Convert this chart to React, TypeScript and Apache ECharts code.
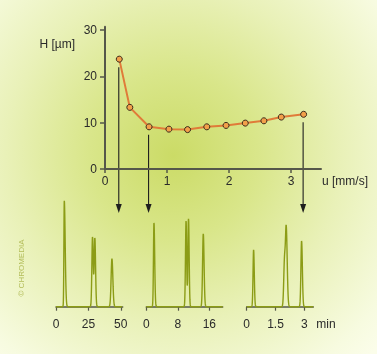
import React, { useEffect, useRef } from "react";
import * as echarts from "echarts";

// ---- Van Deemter plot data ----
const uValues = [0.23, 0.4, 0.71, 1.03, 1.33, 1.64, 1.95, 2.26, 2.56, 2.84, 3.2];
const hValues = [23.7, 13.3, 9.1, 8.6, 8.5, 9.1, 9.4, 9.9, 10.4, 11.2, 11.8];
const uTicks = [0, 1, 2, 3];
const hTicks = [0, 10, 20, 30];
const arrowPointIndex = [0, 2, 10];

// ---- Chromatograms (peak retention time, height, left/right widths) ----
const chrom1Times = [6.4, 28.2, 30.0, 43.2];
const chrom1Heights = [106, 70, 69, 48];
const chrom1SigL = [0.3, 0.5, 0.5, 0.65];
const chrom1SigR = [0.7, 0.55, 0.55, 0.7];
const chrom1Ticks = [0, 25, 50];

const chrom2Times = [1.95, 10.1, 10.72, 14.47];
const chrom2Heights = [84, 86, 88, 73];
const chrom2SigL = [0.13, 0.15, 0.15, 0.18];
const chrom2SigR = [0.18, 0.15, 0.16, 0.2];
const chrom2Ticks = [0, 8, 16];

const chrom3Times = [0.36, 1.97, 2.06, 2.86];
const chrom3Heights = [57, 45, 78, 66];
const chrom3SigL = [0.03, 0.04, 0.04, 0.035];
const chrom3SigR = [0.035, 0.04, 0.05, 0.04];
const chrom3Ticks = [0, 1.5, 3];

const FONT = "Liberation Sans, Arial, sans-serif";
const AXIS_COLOR = "#55574a";
const TEXT_COLOR = "#2a2a2a";
const CHROM_COLOR = "#8c9c16";

function buildTrace(times: number[], heights: number[], sl: number[], sr: number[], xMax: number) {
  const n = 900;
  const out: number[][] = [];
  for (let i = 0; i <= n; i++) {
    const t = (xMax * i) / n;
    let y = 0;
    for (let k = 0; k < times.length; k++) {
      const d = t - times[k];
      const s = d < 0 ? sl[k] : sr[k];
      y += heights[k] * Math.exp(-(d * d) / (2 * s * s));
    }
    out.push([t, y]);
  }
  return out;
}

const chromGrids = [
  { left: 56, width: 66.7, max: 51.5, ticks: chrom1Ticks, data: () => buildTrace(chrom1Times, chrom1Heights, chrom1SigL, chrom1SigR, 51.5) },
  { left: 146.3, width: 76.4, max: 19.4, ticks: chrom2Ticks, data: () => buildTrace(chrom2Times, chrom2Heights, chrom2SigL, chrom2SigR, 19.4) },
  { left: 246.7, width: 66.6, max: 3.47, ticks: chrom3Ticks, data: () => buildTrace(chrom3Times, chrom3Heights, chrom3SigL, chrom3SigR, 3.47) },
];

export default function App() {
  const ref = useRef<HTMLDivElement>(null);
  useEffect(() => {
    if (!ref.current) return;
    const chart = echarts.init(ref.current, undefined, { renderer: "svg" });

    const grids: any[] = [{ left: 105, top: 26.7, width: 216, height: 142.3 }];
    const xAxes: any[] = [
      {
        gridIndex: 0,
        type: "value",
        min: 0,
        max: 3.48,
        interval: 1,
        name: "u [mm/s]",
        nameLocation: "end",
        nameGap: 1,
        nameTextStyle: { color: TEXT_COLOR, fontSize: 12, fontFamily: FONT, verticalAlign: "top", align: "left", padding: [6, 0, 0, 0] },
        axisLine: { show: true, lineStyle: { color: AXIS_COLOR, width: 2 } },
        axisTick: { show: true, length: 4, customValues: uTicks, lineStyle: { color: AXIS_COLOR, width: 1.5 } },
        axisLabel: {
          customValues: uTicks,
          color: TEXT_COLOR,
          fontSize: 12,
          fontFamily: FONT,
          margin: 6,
          formatter: (v: number) => (uTicks.includes(v) ? String(v) : ""),
        },
        splitLine: { show: false },
      },
    ];
    const yAxes: any[] = [
      {
        gridIndex: 0,
        type: "value",
        min: 0,
        max: 30.7,
        interval: 10,
        name: "H [µm]",
        nameLocation: "end",
        nameGap: -17,
        nameTextStyle: { color: TEXT_COLOR, fontSize: 12, fontFamily: FONT, align: "right", verticalAlign: "middle", padding: [0, 30, 0, 0] },
        axisLine: { show: true, lineStyle: { color: AXIS_COLOR, width: 2 } },
        axisTick: { show: true, length: 5, customValues: hTicks, lineStyle: { color: AXIS_COLOR, width: 1.5 } },
        axisLabel: {
          customValues: hTicks,
          color: TEXT_COLOR,
          fontSize: 12,
          fontFamily: FONT,
          margin: 8,
          formatter: (v: number) => (hTicks.includes(v) ? String(v) : ""),
        },
        splitLine: { show: false },
      },
    ];
    const series: any[] = [
      {
        type: "line",
        xAxisIndex: 0,
        yAxisIndex: 0,
        data: uValues.map((u, i) => [u, hValues[i]]),
        symbol: "circle",
        symbolSize: 6,
        lineStyle: { color: "#e07b39", width: 2 },
        itemStyle: { color: "#f2a04a", borderColor: "#3a2a1a", borderWidth: 1 },
        z: 5,
      },
    ];

    chromGrids.forEach((g, idx) => {
      const gi = idx + 1;
      grids.push({ left: g.left, width: g.width, top: 195, height: 116.7 });
      const isLast = idx === chromGrids.length - 1;
      xAxes.push({
        gridIndex: gi,
        type: "value",
        min: 0,
        max: g.max,
        name: isLast ? "min" : "",
        nameLocation: "end",
        nameGap: 3,
        nameTextStyle: { color: TEXT_COLOR, fontSize: 12, fontFamily: FONT, verticalAlign: "top", align: "left", padding: [11, 0, 0, 0] },
        axisLine: { show: true, lineStyle: { color: AXIS_COLOR, width: 1.5 } },
        axisTick: { show: true, length: 4, customValues: g.ticks, lineStyle: { color: AXIS_COLOR, width: 1.2 } },
        axisLabel: {
          customValues: g.ticks,
          color: TEXT_COLOR,
          fontSize: 12,
          fontFamily: FONT,
          margin: 6,
          formatter: (v: number) => (g.ticks.includes(v) ? String(v) : ""),
        },
        splitLine: { show: false },
      });
      yAxes.push({ gridIndex: gi, type: "value", min: -5, max: 111.7, show: false, splitLine: { show: false } });
      series.push({
        type: "line",
        xAxisIndex: gi,
        yAxisIndex: gi,
        data: g.data(),
        showSymbol: false,
        symbol: "none",
        lineStyle: { color: CHROM_COLOR, width: 1.4 },
      });
    });

    chart.setOption({
      animation: false,
      backgroundColor: "transparent",
      grid: grids,
      xAxis: xAxes,
      yAxis: yAxes,
      series,
    });

    const tipY = 213;
    const graphics: any[] = [];
    arrowPointIndex.forEach((i) => {
      const p = chart.convertToPixel({ gridIndex: 0 } as any, [uValues[i], hValues[i]]) as number[];
      const x = p[0] - 0.5;
      graphics.push({
        type: "line",
        shape: { x1: x, y1: p[1] + 8, x2: x, y2: tipY - 6 },
        style: { stroke: "#1e1e1e", lineWidth: 1.1 },
        silent: true,
      });
      graphics.push({
        type: "polygon",
        shape: { points: [[x - 3, tipY - 9], [x + 3, tipY - 9], [x, tipY]] },
        style: { fill: "#1e1e1e" },
        silent: true,
      });
    });
    graphics.push({
      type: "text",
      x: 21,
      y: 268,
      rotation: Math.PI / 2,
      style: { text: "© CHROMEDIA", fill: "#b3bd5a", fontSize: 8, fontFamily: FONT, align: "center", verticalAlign: "middle" },
      silent: true,
    });
    chart.setOption({ graphic: graphics });

    return () => chart.dispose();
  }, []);

  return (
    <div
      ref={ref}
      style={{
        position: "fixed",
        left: 0,
        top: 0,
        width: 377,
        height: 354,
        background: "radial-gradient(circle 280px at 46% 44%, #cbdb66 0%, #d9e68a 30%, #e9f1b8 60%, #f7fbe0 90%, #fbfdea 100%)",
      }}
    />
  );
}
